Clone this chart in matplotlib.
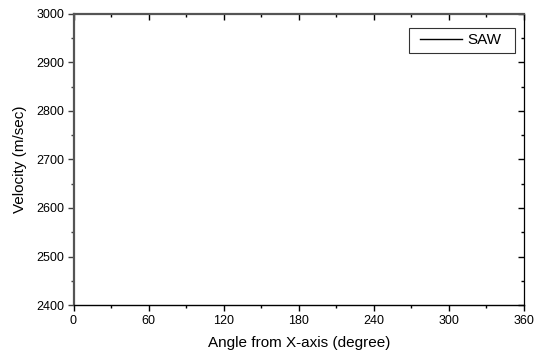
import matplotlib
matplotlib.use("Agg")
import matplotlib.pyplot as plt
from matplotlib.ticker import MultipleLocator
from matplotlib.path import Path

plt.rcParams['font.family'] = ['Liberation Sans', 'DejaVu Sans']

# Data: the SAW curve lies outside the visible range in the reference (no visible points)
angles = []
velocity_saw = []
series_label = "SAW"
x_ticks = [0, 60, 120, 180, 240, 300, 360]
y_ticks = [2400, 2500, 2600, 2700, 2800, 2900, 3000]

fig = plt.figure(figsize=(5.39, 3.59), dpi=100)
ax = fig.add_axes([73.5/539, 1 - 305/359, (524-73.5)/539, (305-14)/359])

ax.plot(angles, velocity_saw, color='black', linewidth=1.0, label=series_label)

ax.set_xlim(0, 360)
ax.set_ylim(2400, 3000)
ax.set_xticks(x_ticks)
ax.set_yticks(y_ticks)
ax.xaxis.set_minor_locator(MultipleLocator(30))
ax.yaxis.set_minor_locator(MultipleLocator(50))

ax.tick_params(axis='both', which='both', labelsize=9, colors='black', width=1.0)
ax.tick_params(axis='both', which='major', length=4.5)
ax.tick_params(axis='both', which='minor', length=2.3)
ax.tick_params(axis='x', which='both', direction='out', top=False, pad=2.5)
ax.tick_params(axis='y', which='both', direction='out', right=False, pad=2)
ax.tick_params(axis='y', which='both', color='#404040')

# mirrored inward ticks on top and right
axt = ax.secondary_xaxis('top')
axt.set_xticks(x_ticks)
axt.xaxis.set_minor_locator(MultipleLocator(30))
axt.tick_params(which='both', direction='in', labeltop=False, width=1.0)
axt.tick_params(which='major', length=4.5)
axt.tick_params(which='minor', length=2.3)
axt.spines['top'].set_visible(False)
axr = ax.secondary_yaxis('right')
axr.set_yticks(y_ticks)
axr.yaxis.set_minor_locator(MultipleLocator(50))
axr.tick_params(which='both', direction='in', labelright=False, width=1.0)
axr.tick_params(which='major', length=4.5)
axr.tick_params(which='minor', length=2.3)
axr.spines['right'].set_visible(False)

ax.spines['bottom'].set_linewidth(1.0)
ax.spines['bottom'].set_color('black')
ax.spines['right'].set_linewidth(0.9)
ax.spines['right'].set_color('black')
ax.spines['left'].set_linewidth(1.6)
ax.spines['left'].set_color('#555555')
ax.spines['top'].set_linewidth(1.6)
ax.spines['top'].set_color('#555555')

ax.set_xlabel("Angle from X-axis (degree)", fontsize=11, labelpad=6.5)
ax.set_ylabel("Velocity (m/sec)", fontsize=11, labelpad=6.5)


def wide_box(x0, y0, width, height, mutation_size):
    """Square legend frame with extra horizontal padding (left/right)."""
    pl = 0.36 * mutation_size
    pr = 0.56 * mutation_size
    x1 = x0 - pl
    x2 = x0 + width + pr
    y1 = y0
    y2 = y0 + height
    return Path([(x1, y1), (x2, y1), (x2, y2), (x1, y2), (x1, y1)], closed=True)


leg = ax.legend(loc='upper right', fontsize=11, frameon=True, fancybox=False,
                edgecolor='black', handlelength=2.75, handletextpad=0.35,
                borderpad=0.36, borderaxespad=0,
                bbox_to_anchor=((506.5-73.5)/(524-73.5), 1 - (28-14)/(305-14)))
leg.get_frame().set_linewidth(0.8)
leg.get_frame().set_boxstyle(wide_box)

fig.savefig("out.png", dpi=100)
